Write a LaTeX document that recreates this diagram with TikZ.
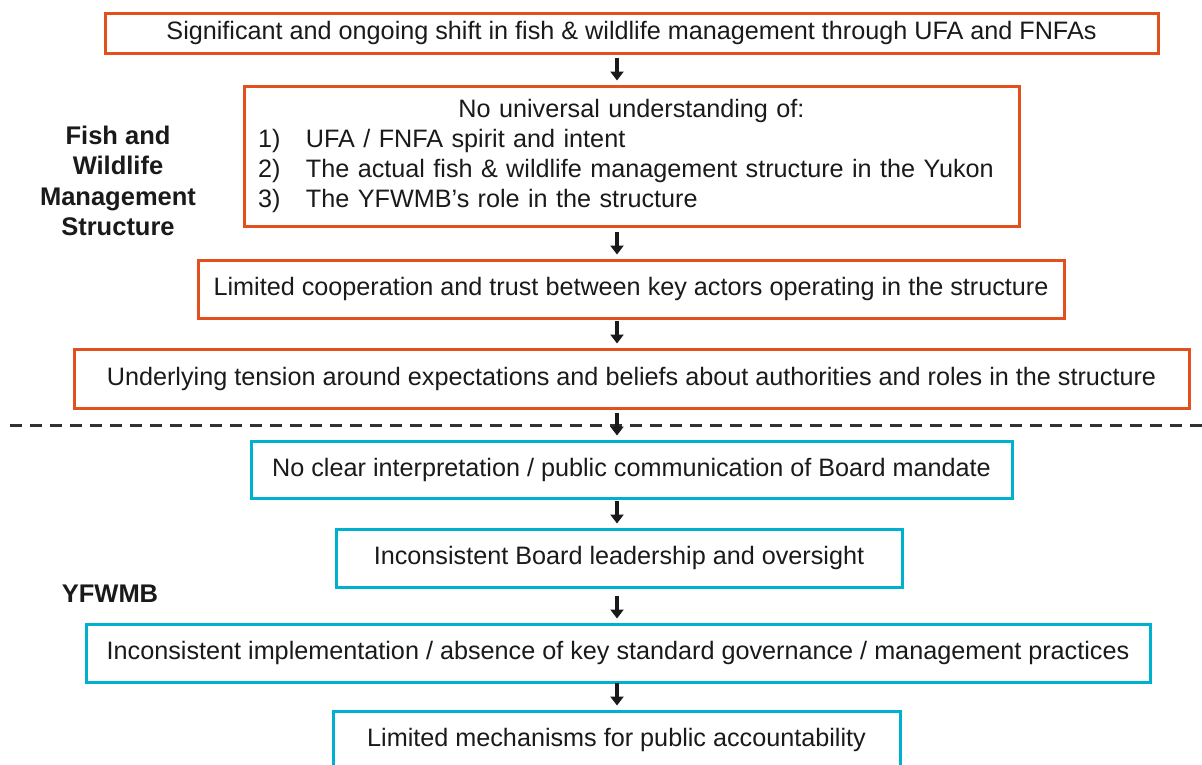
\documentclass[tikz,border=0pt]{standalone}
\usepackage{fontspec}
\setmainfont{Liberation Sans}
\usetikzlibrary{arrows.meta,calc}
\definecolor{rust}{HTML}{E2501E}
\definecolor{teal}{HTML}{00B0CF}
\definecolor{ink}{HTML}{1A1A1A}
\begin{document}
\begin{tikzpicture}[x=1pt,y=-1pt,
  box/.style={draw, line width=3pt, rectangle, inner sep=0pt, text=ink,
    font=\fontsize{25.2}{30}\selectfont, fill=white},
  upper/.style={box, draw=rust},
  lower/.style={box, draw=teal},
  flow/.style={line width=4.5pt, draw=ink,
    -{Triangle[width=13pt,length=9pt]}},
  side/.style={font=\fontsize{25.5}{30.5}\selectfont\bfseries, text=ink, align=center}]
\clip (0,0) rectangle (1202,764);
\fill[white] (0,0) rectangle (1202,764);

% arrow axis
\coordinate (ax) at (617,0);

% management structure chain
\node[upper, minimum width=1053pt, minimum height=40pt] (b1) at (631.5,33)
  {Significant and ongoing shift in fish \& wildlife management through UFA and FNFAs};
\node[upper, minimum width=775pt, minimum height=140pt, text width=747pt, align=left] (b2) at (631.5,156)
  {\centering No universal understanding of:\par\raggedright
   \makebox[48pt][l]{1)}UFA / FNFA spirit and intent\par
   \makebox[48pt][l]{2)}The actual fish \& wildlife management structure in the Yukon\par
   \makebox[48pt][l]{3)}The YFWMB’s role in the structure\par};
\node[upper, minimum width=866pt, minimum height=58pt] (b3) at (631,289)
  {Limited cooperation and trust between key actors operating in the structure};
\node[upper, minimum width=1115pt, minimum height=59pt] (b4) at (631.5,378.5)
  {Underlying tension around expectations and beliefs about authorities and roles in the structure};

% board chain
\node[lower, minimum width=761pt, minimum height=57pt] (b5) at (631.5,469.5)
  {No clear interpretation / public communication of Board mandate};
\node[lower, minimum width=566pt, minimum height=58pt] (b6) at (619,558)
  {Inconsistent Board leadership and oversight};
\node[lower, minimum width=1064pt, minimum height=58pt] (b7) at (618,653)
  {Inconsistent implementation / absence of key standard governance / management practices};
\node[lower, minimum width=567pt, minimum height=58pt] (b8) at (616.5,740)
  {Limited mechanisms for public accountability};

% divider between the two levels
\coordinate (dl) at (10,425);
\coordinate (dr) at (1202,425);
\draw[line width=3pt, draw=ink!90, dash pattern=on 12pt off 8pt] (dl) -- (dr);

% connectors: fixed-length block arrows ending just above the next box
\foreach \a/\b in {b1/b2, b2/b3, b3/b4, b4/b5, b5/b6, b6/b7, b7/b8}
  \draw[flow] ($(\b.north -| ax)+(0,-27)$) -- ($(\b.north -| ax)+(0,-4)$);

% side labels
\node[side] (lab1) at (118,181) {Fish and\\Wildlife\\Management\\Structure};
\node[side] (lab2) at (110,594) {YFWMB};
\end{tikzpicture}
\end{document}
